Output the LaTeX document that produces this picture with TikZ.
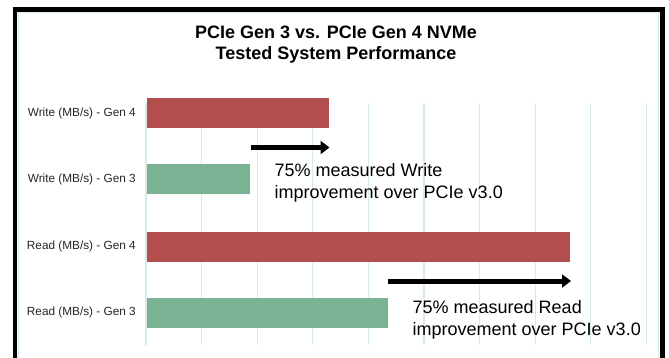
\documentclass[tikz,border=0pt]{standalone}
\usepackage{fontspec}
\setmainfont{Liberation Sans}
\usetikzlibrary{arrows.meta}
\definecolor{barred}{RGB}{178,78,78}
\definecolor{bargreen}{RGB}{122,178,148}
\definecolor{gridc}{RGB}{214,234,230}
\begin{document}
\begin{tikzpicture}[x=1pt,y=-1pt,
  bar/.style={draw=none, minimum height=30pt, inner sep=0pt, anchor=west},
  redbar/.style={bar, fill=barred},
  greenbar/.style={bar, fill=bargreen},
  gridline/.style={draw=gridc, line width=1.3pt},
  catlabel/.style={anchor=east, inner sep=0pt, text=black!85, font=\fontsize{11.8}{13}\selectfont},
  note/.style={anchor=west, align=left, inner sep=0pt, font=\fontsize{18}{21.5}\selectfont},
  bigarrow/.style={line width=5pt, -{Triangle[length=9pt,width=13pt]}}]
\useasboundingbox (0,0) rectangle (669,358);
\fill[white] (0,0) rectangle (669,358);
% frame
\draw[gridc, line width=1pt] (18.5,358) -- (18.5,13) -- (658.5,13) -- (658.5,358);
\draw[black, line width=4.5pt] (15,358) -- (15,9.5) -- (662.5,9.5) -- (662.5,358);
% title
\node[font=\bfseries\fontsize{18}{20.5}\selectfont, align=center] (title) at (336,44.5) {PCIe Gen 3 vs. PCIe Gen 4 NVMe\\Tested System Performance};
% grid
\foreach \k in {0,...,9} {
  \draw[gridline] ({146+55.6*\k},103) -- ({146+55.6*\k},345);
}
% bars
\node[redbar, minimum width=182pt] (w4) at (147,113) {};
\node[greenbar, minimum width=103pt] (w3) at (147,179.5) {};
\node[redbar, minimum width=423pt] (r4) at (147,246.5) {};
\node[greenbar, minimum width=241pt] (r3) at (147,312.5) {};
% labels
\node[catlabel] (lw4) at (136,113) {Write (MB/s) - Gen 4};
\node[catlabel] (lw3) at (136,179.5) {Write (MB/s) - Gen 3};
\node[catlabel] (lr4) at (136,246.5) {Read (MB/s) - Gen 4};
\node[catlabel] (lr3) at (136,312.5) {Read (MB/s) - Gen 3};
% arrows
\coordinate (wa1) at (251,147.5);
\coordinate (wa2) at (329.5,147.5);
\coordinate (ra1) at (388,281);
\coordinate (ra2) at (571,281);
\draw[bigarrow] (wa1) -- (wa2);
\draw[bigarrow] (ra1) -- (ra2);
% notes
\node[note] (wnote) at (274.5,183) {75\% measured Write\\improvement over PCIe v3.0};
\node[note] (rnote) at (412.5,320) {75\% measured Read\\improvement over PCIe v3.0};
\end{tikzpicture}
\end{document}
